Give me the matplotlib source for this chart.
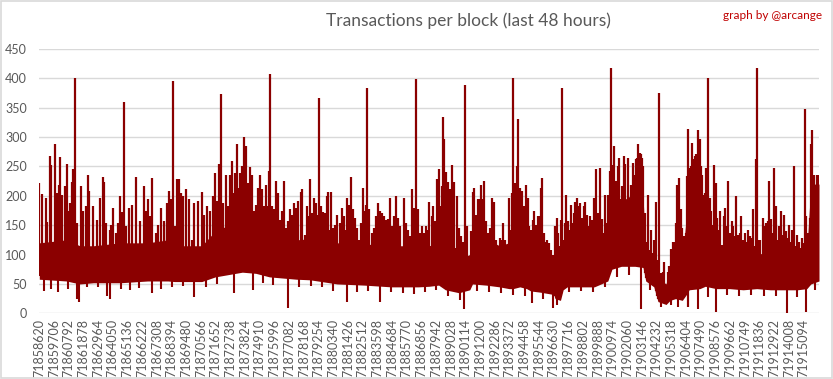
import numpy as np
import matplotlib
matplotlib.use("Agg")
import matplotlib.pyplot as plt
from matplotlib.patches import Rectangle

plt.rcParams['font.family'] = ['Lato', 'DejaVu Sans']

first_block = 71858620
n_blocks = 57600

tick_labels = ["71858620", "71859706", "71860792", "71861878", "71862964", "71864050",
               "71865136", "71866222", "71867308", "71868394", "71869480", "71870566",
               "71871652", "71872738", "71873824", "71874910", "71875996", "71877082",
               "71878168", "71879254", "71880340", "71881426", "71882512", "71883598",
               "71884684", "71885770", "71886856", "71887942", "71889028", "71890114",
               "71891200", "71892286", "71893372", "71894458", "71895544", "71896630",
               "71897716", "71898802", "71899888", "71900974", "71902060", "71903146",
               "71904232", "71905318", "71906404", "71907490", "71908576", "71909662",
               "71910749", "71911836", "71912922", "71914008", "71915094"]

# dense band (typical per-column min / max), offsets in blocks from first_block
band_offset = [0, 2000, 3000, 4000, 6000, 8000, 9500, 10000, 12000, 13000, 14000, 15000,
               16000, 17000, 18000, 19000, 20000, 22000, 24000, 26000, 28000, 28800, 29500,
               30000, 31000, 31800, 32000, 33000, 34000, 34700, 35000, 35500, 36000, 36300,
               37000, 38000, 38100, 38500, 38700, 39000, 40000, 41000, 42000, 42300, 43000,
               44000, 44600, 44800, 45400, 45700, 46300, 46600, 47000, 47500, 47900, 48000,
               48800, 49200, 50000, 51000, 52000, 53000, 54000, 55000, 56000, 56700, 57000,
               57600]
band_top = [120, 125, 115, 115, 120, 120, 125, 115, 115, 140, 150, 160, 145, 130, 127, 125,
            127, 120, 118, 115, 115, 115, 120, 105, 92, 100, 130, 127, 115, 120, 165, 170,
            150, 110, 105, 95, 82, 78, 115, 125, 125, 125, 140, 180, 190, 205, 200, 100,
            90, 60, 50, 82, 100, 90, 190, 230, 220, 165, 120, 105, 105, 100, 105, 105,
            100, 105, 220, 220]
band_bottom = [58, 55, 50, 52, 52, 55, 55, 54, 54, 62, 66, 70, 68, 62, 60, 58, 57, 50, 48,
               45, 45, 46, 48, 40, 35, 40, 50, 48, 45, 42, 42, 45, 42, 38, 36, 32, 25, 22,
               40, 45, 45, 45, 55, 75, 80, 80, 78, 55, 45, 20, 15, 22, 25, 22, 35, 40, 42,
               46, 42, 42, 40, 42, 40, 40, 40, 42, 50, 55]

# spikes above the dense band
peak_offset = [0, 224, 495, 593, 815, 889, 1184, 1332, 1480, 1554, 1702, 1923, 2071, 2170,
               2293, 2441, 2514, 2588, 2662, 2761, 2958, 3106, 3253, 3426, 3574, 3672, 3992,
               4263, 4509, 4731, 4805, 4953, 5199, 5322, 5470, 5692, 5790, 5987, 6086, 6283,
               6381, 6652, 6874, 7170, 7465, 7761, 7909, 8056, 8204, 8352, 8647, 8795, 9017,
               9189, 9410, 9460, 9608, 9730, 9903, 10026, 10174, 10346, 10469, 10642, 10814,
               11060, 11257, 11454, 11750, 11996, 12193, 12390, 12612, 12859, 13006, 13154,
               13302, 13450, 13597, 13819, 13967, 14115, 14213, 14336, 14484, 14632, 14755,
               14854, 14952, 15075, 15149, 15248, 15396, 15543, 15691, 15839, 15987, 16134,
               16282, 16430, 16578, 16725, 16873, 16996, 17070, 17218, 17341, 17514, 17661,
               17809, 17957, 18080, 18252, 18400, 18548, 18696, 18843, 18991, 19139, 19334,
               19433, 19630, 19802, 19925, 20024, 20172, 20320, 20467, 20615, 20689, 20812,
               20960, 21108, 21231, 21305, 21453, 21551, 21699, 21847, 22019, 22216, 22364,
               22487, 22635, 22758, 22881, 23053, 23177, 23324, 23472, 23620, 23768, 23891,
               24039, 24162, 24236, 24384, 24556, 24704, 24852, 24999, 25172, 25295, 25443,
               25590, 25738, 25886, 26034, 26181, 26378, 26526, 26674, 26822, 26969, 27117,
               27265, 27413, 27561, 27709, 27856, 27955, 28103, 28251, 28399, 28546, 28694,
               28817, 28988, 29111, 29234, 29357, 29456, 29554, 29677, 29776, 29850, 29924,
               30022, 30121, 30219, 30367, 30515, 30613, 30736, 30884, 31007, 31155, 31327,
               31475, 31598, 31746, 31894, 32017, 32140, 32263, 32386, 32485, 32633, 32731,
               32830, 32978, 33125, 33273, 33421, 33569, 33717, 33864, 34012, 34160, 34283,
               34431, 34603, 34726, 34849, 34948, 35022, 35145, 35268, 35391, 35515, 35662,
               35810, 35958, 36081, 36204, 36327, 36451, 36574, 36697, 36820, 36943, 37042,
               37165, 37288, 37411, 37534, 37682, 37805, 37953, 38101, 38224, 38346, 38494,
               38568, 38642, 38740, 38839, 38937, 39036, 39159, 39258, 39381, 39479, 39578,
               39726, 39849, 39972, 40095, 40218, 40341, 40464, 40588, 40711, 40834, 40957,
               41056, 41154, 41253, 41351, 41450, 41573, 41696, 41795, 41918, 42041, 42164,
               42263, 42386, 42484, 42607, 42730, 42854, 42952, 43051, 43174, 43297, 43420,
               43519, 43642, 43741, 43839, 43962, 44061, 44159, 44258, 44356, 44455, 44553,
               44627, 44725, 44824, 44947, 45070, 45218, 45341, 45440, 45538, 45637, 45735,
               45809, 45932, 46055, 46154, 46277, 46425, 46548, 46671, 46795, 46918, 47016,
               47139, 47262, 47385, 47484, 47607, 47706, 47804, 47878, 47952, 48026, 48049,
               48147, 48246, 48344, 48443, 48541, 48615, 48689, 48788, 48862, 48960, 49059,
               49157, 49256, 49354, 49428, 49527, 49650, 49773, 49871, 49970, 50068, 50191,
               50315, 50438, 50561, 50659, 50783, 50906, 51029, 51152, 51275, 51398, 51497,
               51620, 51743, 51866, 51989, 52113, 52236, 52359, 52482, 52605, 52729, 52852,
               52950, 53049, 53147, 53270, 53369, 53467, 53590, 53714, 53812, 53935, 54058,
               54181, 54304, 54428, 54551, 54674, 54797, 54920, 55044, 55167, 55290, 55413,
               55536, 55635, 55733, 55857, 55980, 56103, 56226, 56349, 56472, 56595, 56669,
               56792, 56916, 57039, 57113, 57212, 57335, 57433, 57532]
peak_value = [222, 203, 196, 155, 268, 253, 289, 205, 219, 266, 202, 216, 255, 174,
              188, 224, 245, 211, 401, 154, 111, 216, 175, 182, 236, 209, 182,
              159, 196, 232, 224, 154, 142, 151, 179, 137, 153, 199, 173, 360,
              148, 179, 185, 232, 157, 216, 174, 195, 165, 231, 137, 151, 179,
              157, 154, 188, 208, 194, 395, 148, 229, 229, 205, 199, 212,
              195, 125, 188, 191, 206, 168, 182, 174, 199, 239, 191,
              255, 373, 187, 236, 182, 236, 259, 205, 239, 289, 214,
              239, 251, 222, 301, 285, 222, 249, 236, 174, 185, 214,
              235, 211, 182, 218, 182, 242, 407, 182, 177, 225, 204,
              159, 174, 225, 145, 157, 177, 168, 187, 179, 191, 206,
              212, 134, 182, 165, 228, 170, 196, 187, 168, 366, 182,
              172, 171, 200, 206, 142, 206, 145, 151, 168, 154, 179,
              165, 142, 196, 185, 232, 177, 162, 145, 125, 153, 214,
              174, 185, 383, 177, 137, 145, 165, 188, 174, 170, 165,
              159, 161, 196, 148, 165, 199, 162, 148, 105, 196, 153,
              142, 131, 212, 179, 399, 177, 137, 148, 137, 149, 142,
              189, 165, 182, 157, 228, 191, 245, 182, 216, 335, 296,
              240, 120, 224, 212, 253, 224, 111, 199, 145, 131, 121,
              388, 149, 91, 140, 206, 214, 168, 194, 195, 219, 194,
              225, 158, 137, 145, 196, 189, 125, 108, 128, 125, 153,
              125, 117, 196, 142, 205, 400, 222, 251, 330, 214, 208,
              182, 218, 196, 148, 142, 159, 174, 151, 166, 165, 214,
              231, 137, 121, 125, 120, 107, 100, 148, 162, 137, 114,
              159, 384, 125, 154, 202, 157, 141, 185, 154, 171, 189,
              196, 182, 188, 162, 183, 189, 168, 148, 165, 159, 196,
              157, 246, 171, 162, 248, 161, 137, 202, 154, 202, 242,
              417, 252, 284, 225, 251, 265, 194, 216, 268, 254, 188,
              265, 182, 219, 256, 236, 262, 265, 289, 273, 271, 265,
              251, 171, 122, 202, 108, 142, 103, 125, 189, 91, 83,
              375, 68, 71, 88, 48, 71, 80, 109, 122, 121, 154,
              218, 231, 178, 145, 131, 97, 137, 233, 314, 248, 231,
              251, 290, 262, 268, 271, 248, 312, 296, 251, 235, 202,
              205, 248, 182, 401, 196, 174, 151, 253, 221, 162, 142,
              175, 117, 165, 179, 148, 225, 137, 157, 148, 131, 200,
              134, 137, 166, 125, 137, 121, 142, 132, 128, 178, 114,
              262, 417, 125, 125, 100, 162, 148, 154, 157, 225, 161,
              137, 248, 182, 125, 148, 174, 134, 168, 140, 128, 151,
              122, 142, 251, 114, 134, 122, 111, 128, 120, 347, 165,
              137, 162, 288, 312, 236, 216, 236, 236]

# dips below the dense band
dip_offset = [372, 900, 1406, 2100, 2810, 2958, 3500, 4300, 5027, 5248, 6000, 6700, 7400,
              8303, 9000, 9800, 10600, 11454, 12300, 13100, 14410, 15765, 16500, 17300,
              18400, 19200, 20100, 20900, 21700, 22708, 23500, 24300, 25172, 26000, 26900,
              27700, 28500, 29300, 30200, 31081, 31401, 32300, 33200, 34100, 35000, 35900,
              36426, 37200, 37978, 38224, 39100, 40000, 40900, 41800, 42700, 43600, 44479,
              45100, 45900, 46700, 47213, 47903, 47950, 48689, 49400, 49994, 50800, 51700,
              52600, 53500, 54400, 55241, 56000, 56644, 57300]
dip_value = [38, 42, 37, 41, 24, 20, 44, 45, 30, 24, 42, 40, 43, 35, 42, 45, 46, 27, 44,
             50, 34, 40, 52, 48, 9, 44, 46, 44, 38, 20, 36, 38, 20, 36, 34, 33, 36, 40, 30,
             23, 7, 38, 36, 34, 32, 30, 18, 25, 9, 14, 36, 38, 36, 45, 62, 66, 7, 40, 10, 14,
             11, 11, 11, 7, 28, 3, 32, 30, 32, 30, 30, 1, 28, 3, 40]

bar_color = '#8B0000'
grid_color = '#D9D9D9'
text_color = '#595959'

fig = plt.figure(figsize=(8.33, 3.79), dpi=100)
fig.patches.append(Rectangle((0.0008, 0.0015), 0.9984, 0.997, transform=fig.transFigure,
                             fill=False, edgecolor=grid_color, linewidth=1.2))
ax = fig.add_axes([39.3 / 833, 1 - 313.3 / 379, (819 - 39.3) / 833, 264.3 / 379])

ax.fill_between(band_offset, band_bottom, band_top, color=bar_color, linewidth=0, zorder=2)
pk_base = np.interp(peak_offset, band_offset, band_bottom) + 5
ax.vlines(peak_offset, pk_base, peak_value, color=bar_color, linewidth=1.6, zorder=3)
dp_top = np.interp(dip_offset, band_offset, band_top) - 5
ax.vlines(dip_offset, dip_value, dp_top, color=bar_color, linewidth=1.5, zorder=3)

ax.set_xlim(0, n_blocks)
ax.set_ylim(0, 450)
ax.set_yticks(np.arange(0, 451, 50))
ax.grid(axis='y', color=grid_color, linewidth=1.0, zorder=0)
ax.set_axisbelow(True)
for s in ax.spines.values():
    s.set_visible(False)

tick_pos = [int(t) - first_block for t in tick_labels]
ax.set_xticks(tick_pos)
ax.set_xticklabels(tick_labels, rotation=90, fontsize=9, color=text_color)
ax.tick_params(axis='x', length=0, pad=4)
ax.tick_params(axis='y', length=0, pad=9, labelsize=9, labelcolor=text_color)

fig.text(0.5625, 0.945, "Transactions per block (last 48 hours)", ha='center', va='center',
         fontsize=12.5, color=text_color)
fig.text(0.987, 0.958, "graph by @arcange", ha='right', va='center', fontsize=8.5,
         color='#C00000')

fig.savefig("out.png", dpi=100)
